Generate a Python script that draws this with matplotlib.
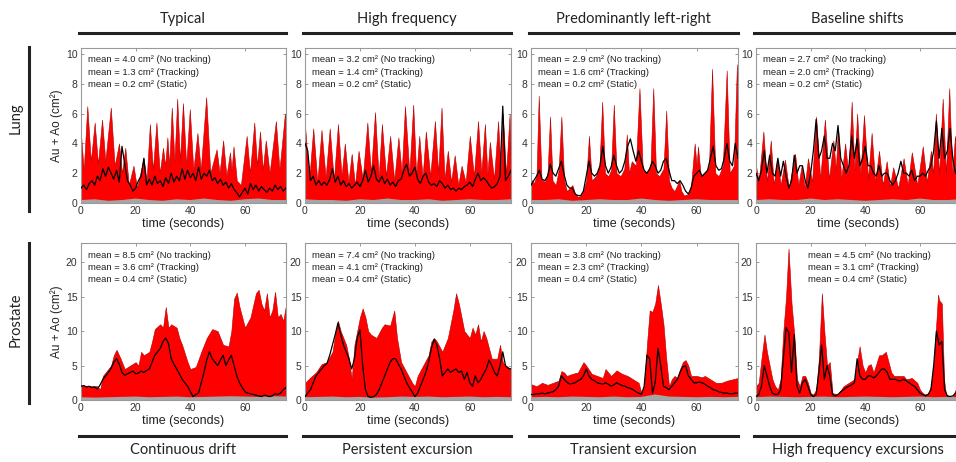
import numpy as np
import matplotlib
matplotlib.use("Agg")
import matplotlib.pyplot as plt
from matplotlib.lines import Line2D

# ---------------- DATA ----------------
col_titles = ["Typical", "High frequency", "Predominantly left-right", "Baseline shifts"]
bottom_titles = ["Continuous drift", "Persistent excursion", "Transient excursion", "High frequency excursions"]
row_titles = ["Lung", "Prostate"]

# mean values (No tracking, Tracking, Static)
means_lung = [(4.0, 1.3, 0.2), (3.2, 1.4, 0.2), (2.9, 1.6, 0.2), (2.7, 2.0, 0.2)]
means_prostate = [(8.5, 3.6, 0.4), (7.4, 4.1, 0.4), (3.8, 2.3, 0.4), (4.5, 3.1, 0.4)]

lung_yticks = [0, 2, 4, 6, 8, 10]
prostate_yticks = [0, 5, 10, 15, 20]
x_ticks = [0, 20, 40, 60]

# No-tracking (red) series: (time s, area cm2)
red_lung_typical = [(0,4.6),(1.0,2.2),(2.3,6.5),(3.6,2.8),(5.0,5.4),(6.2,2.6),(7.7,5.6),(8.9,2.8),(10.9,6.4),(12.3,2.5),
    (13.9,4.0),(15.0,2.0),(16.2,3.7),(17.5,1.2),(19.2,2.5),(20.5,1.0),(22.9,3.0),(24.0,1.5),(25.2,5.3),(26.3,2.2),
    (27.6,5.4),(28.8,2.0),(30.0,3.7),(30.8,2.5),(31.6,4.4),(32.3,2.5),(33.2,6.4),(34.2,2.8),(35.2,7.0),(36.2,2.8),
    (37.3,6.7),(38.5,2.5),(39.8,6.3),(41.1,2.2),(42.6,4.7),(43.8,2.2),(45.8,7.1),(47.3,2.0),(49.6,3.6),(50.7,2.0),
    (52.0,4.2),(53.2,1.8),(54.5,3.4),(55.1,2.2),(55.8,3.8),(57.0,1.5),(58.5,1.2),(60.6,4.5),(61.8,2.0),(63.4,5.4),
    (64.4,2.5),(65.5,4.8),(66.5,2.2),(67.6,4.2),(69.0,2.0),(71.3,5.5),(72.6,2.2),(74.6,6.0),(75,5.0)]
red_lung_highfreq = [(0,5.2),(1.5,1.5),(3,5.0),(4.5,1.4),(6,4.9),(7.5,1.7),(9,5.0),(10.5,1.5),(12,5.3),(13.3,1.8),
    (14.5,4.0),(15.8,1.4),(17,3.3),(18.2,1.2),(19.5,3.5),(21,1.6),(22.7,5.4),(24,2.0),(25.5,6.1),(26.8,1.7),
    (28,5.3),(29.5,1.8),(31,4.5),(32.5,1.5),(34,4.4),(35.2,2.0),(36.4,6.5),(38,2.0),(39.4,6.6),(40.5,1.8),
    (41.6,4.5),(42.8,1.7),(44,4.8),(45.6,1.8),(47.3,5.5),(48.5,2.0),(49.7,6.4),(50.8,1.6),(52,3.5),(53.2,1.4),
    (54.5,3.2),(55.8,1.2),(57,2.5),(58.5,1.4),(60,4.5),(61.5,1.8),(63,5.5),(64.2,2.0),(65.5,5.3),(66.4,1.9),
    (67.3,4.1),(68.8,1.6),(70.3,5.5),(71.2,2.2),(72,6.0),(73.2,1.9),(74.5,6.0),(75,2.4)]
red_lung_leftright = [(0,1.6),(1,1.3),(2,1.8),(2.8,7.2),(3.8,1.6),(5,1.4),(6,2.0),(6.9,5.8),(7.8,1.5),(9,1.2),
    (10,2.2),(11,5.8),(12,1.5),(13,0.8),(14,1.0),(15,1.2),(16,0.6),(17,0.4),(18,0.5),(19,0.8),
    (20,1.5),(21,4.5),(22,1.5),(23.5,1.8),(24.8,2.5),(25.8,6.8),(26.8,2.0),(28,1.8),(29,2.2),(30,6.6),
    (31,2.0),(32.5,1.8),(33.8,2.3),(34.7,4.6),(35.5,2.0),(36.5,2.8),(38,2.5),(39.3,7.7),(40.5,2.2),(42,2.0),
    (43.3,2.5),(44.3,7.7),(45.3,2.0),(46.5,1.8),(48,2.3),(49,6.2),(50,1.5),(51,1.0),(52,0.8),(53,1.2),
    (53.7,1.5),(54.5,0.8),(55.5,0.5),(57,0.6),(58,1.2),(59.3,4.0),(60,2.5),(60.5,3.8),(61.5,1.8),(63,2.0),
    (64.5,2.5),(65.6,9.0),(66.8,2.0),(68,1.8),(69.5,2.5),(70.9,8.9),(72,2.0),(73.5,2.5),(74.6,9.3),(75,5.0)]
red_lung_baseline = [(0,2.5),(1,1.4),(2.7,4.8),(4,1.4),(5.4,4.2),(6.5,1.2),(7.8,3.0),(9,1.2),(10.6,2.9),(12,1.0),
    (14.3,3.3),(15.5,1.2),(16.7,2.5),(17.8,1.0),(19,3.0),(20.5,1.4),(22,5.8),(23.5,1.6),(25.2,5.6),(26.7,1.6),
    (28.3,4.2),(29.2,2.2),(30,5.1),(31.2,1.6),(32.6,4.0),(33.8,1.9),(35,6.8),(36,2.2),(37,6.0),(38.2,1.9),
    (39.5,5.9),(41,1.6),(42.3,4.7),(43.6,1.4),(45,3.5),(46.4,1.2),(47.8,2.8),(49,1.1),(50.2,2.4),(52,1.0),
    (54,3.0),(55.5,1.2),(57,3.4),(59,1.2),(61,3.8),(62.5,1.4),(64,3.5),(64.8,1.9),(65.8,6.0),(67,1.9),
    (68.3,7.0),(69.5,1.9),(70.7,7.7),(71.8,1.9),(72.8,4.5),(74,1.6),(75,2.2)]
red_prostate_drift = [(0,2.1),(3,2.0),(6,2.0),(7,1.5),(8,3.5),(10,4.5),(11,5.0),(12,6.5),(13,7.3),(14.5,6.0),
    (16,4.5),(18,5.0),(20,5.5),(21,5.0),(22,7.0),(23,6.5),(25,7.0),(26,8.5),(27,10.3),(29,11.0),
    (30,10.5),(31,13.5),(32,10.5),(33,11.0),(35,10.5),(36,9.0),(37,8.0),(39,5.5),(40,4.5),(42,4.8),
    (44,7.0),(46,9.0),(48,10.3),(50,10.0),(52,8.0),(54,7.8),(55,10.0),(56,14.7),(57,15.6),(58,13.5),
    (59,12.0),(60,10.5),(62,12.0),(64,15.5),(65,16.0),(66,14.0),(67,13.0),(68,15.5),(69,12.0),(70,13.0),
    (71,15.7),(72,12.0),(73,12.5),(74,11.5),(75,13.8)]
red_prostate_persistent = [(0,2.5),(2,3.3),(4,4.0),(6,5.2),(8,5.5),(10,7.0),(11,9.5),(12,11.5),(13,10.0),(15,8.0),
    (16,6.0),(17,3.0),(18,8.0),(20,12.0),(21,13.3),(22,12.0),(23,10.0),(24,9.5),(26,9.0),(28,10.5),
    (29,11.0),(31,10.8),(32.5,13.0),(33.5,9.0),(35,5.5),(37,4.0),(39,2.5),(40,2.0),(41,3.5),(43,5.0),
    (45,6.5),(46,8.5),(47,9.0),(48,8.5),(50,7.0),(52,9.0),(54,13.0),(55,15.5),(56,14.0),(57,12.0),
    (58,10.0),(60,9.0),(61,10.5),(62,9.5),(63,11.0),(64,8.5),(65,10.0),(66,9.0),(68,6.0),(70,6.0),
    (71,8.0),(72,5.5),(73,5.0),(75,4.5)]
red_prostate_transient = [(0,2.3),(2,2.0),(4,2.5),(6,2.2),(8,2.5),(10,2.8),(11,4.2),(12,4.0),(13,3.5),(15,3.8),
    (17,4.0),(19,5.5),(20,5.0),(22,3.8),(24,3.5),(26,3.2),(27,4.5),(29,3.5),(31,4.3),(33,3.8),
    (35,3.5),(37,3.0),(39,2.5),(40,1.0),(41,2.0),(42,8.0),(43,13.0),(44,12.8),(45,14.0),(46,16.7),
    (47,14.0),(48,11.0),(49,6.0),(50,2.0),(51,3.0),(52,3.5),(53,3.2),(54,4.5),(55,5.5),(56,5.8),
    (57,5.0),(58,3.5),(60,3.5),(62,3.3),(63,3.5),(65,3.0),(67,2.5),(69,2.5),(71,2.8),(73,3.0),(75,3.2)]
red_prostate_highfreq = [(0,2.0),(1,2.5),(2,6.0),(3.1,9.5),(4,7.0),(5,5.0),(6,3.0),(7,2.0),(8,1.5),(9,3.0),
    (10,10.0),(11,15.0),(11.9,22.0),(13,14.0),(14,9.5),(15,3.0),(16,2.0),(17,3.5),(18,3.5),(19,2.5),
    (20,1.0),(21,0.8),(22,1.5),(23,6.0),(24.1,15.5),(25,10.0),(26,5.0),(27,5.5),(28,1.0),(30,0.8),
    (32,2.0),(34,2.5),(36,3.0),(37.9,7.8),(39,5.0),(40,4.0),(41,5.0),(42,5.2),(43,4.0),(44,5.2),
    (45,6.5),(46,6.5),(47.5,7.0),(48.5,5.5),(49.5,4.0),(50.5,3.5),(52,3.5),(54,3.5),(55,3.0),(57,3.2),
    (59,2.5),(60,1.5),(61,1.0),(62,0.8),(63,1.0),(64,2.0),(65,5.0),(66.6,15.3),(67,14.5),(68,14.0),
    (68.8,3.0),(69.5,0.8),(71,0.5),(72,0.5),(73,1.5),(75,2.0)]

# Tracking (black) series, one value per second from 0 to 75 s
trk_lung_typical = [1.0,1.2,0.9,1.3,1.5,1.2,1.8,1.5,2.3,1.8,2.4,2.0,1.6,2.2,1.4,3.8,2.6,1.5,1.2,0.8,
    1.0,1.5,1.8,3.0,1.2,1.6,1.2,1.8,1.3,1.5,1.1,1.7,1.3,2.0,1.4,1.8,1.5,2.3,1.6,2.2,
    1.7,2.0,1.5,2.4,1.6,2.0,1.8,2.2,1.5,1.7,1.3,1.6,1.2,1.4,1.0,1.3,0.9,0.7,0.4,0.7,
    1.0,0.6,1.3,0.9,1.2,0.8,1.1,0.9,0.7,1.0,0.8,1.2,0.9,1.1,0.8,1.0]
trk_lung_highfreq = [4.0,3.5,1.5,1.8,1.2,1.5,1.2,1.4,1.2,1.6,2.3,1.4,1.8,1.2,1.5,1.1,1.3,1.0,1.2,1.4,
    1.1,1.5,2.2,1.4,1.8,2.5,1.6,1.4,1.8,1.3,1.6,1.2,1.4,1.1,1.5,1.6,2.2,2.6,1.8,2.0,
    2.4,1.6,1.3,1.8,2.0,1.4,1.2,1.3,1.1,1.5,1.3,1.0,1.2,0.9,1.0,0.8,1.0,0.9,1.1,1.2,
    1.4,1.1,1.6,2.0,1.5,1.7,1.5,1.2,1.0,1.1,1.3,1.8,6.5,1.5,1.8,2.2]
trk_lung_leftright = [1.2,1.5,1.8,2.2,1.6,1.5,1.8,2.6,2.0,1.8,2.3,2.8,1.9,1.2,1.0,1.0,0.6,0.5,0.5,0.8,
    1.8,2.8,2.0,1.8,2.0,2.5,3.8,2.5,2.0,2.4,3.2,2.5,2.0,2.2,2.8,3.8,4.3,3.5,2.8,3.5,
    2.8,2.2,2.0,2.3,2.8,2.5,2.0,2.2,2.8,3.0,2.2,1.5,1.5,1.3,1.5,1.2,0.8,0.6,1.0,1.8,
    2.0,2.2,1.8,2.0,2.2,3.0,3.8,2.5,2.2,2.3,3.0,4.0,2.8,2.5,4.0,3.0]
trk_lung_baseline = [2.0,1.5,2.2,3.5,2.0,3.2,2.0,1.8,3.0,1.8,2.8,1.8,1.0,1.5,3.2,2.0,2.5,2.5,1.5,1.0,
    2.0,3.5,5.6,3.0,3.5,4.5,3.0,3.0,4.0,3.5,5.2,3.0,2.5,2.0,2.5,4.5,3.0,4.3,2.5,3.0,
    3.8,2.5,2.5,2.0,1.8,2.5,1.8,2.0,2.0,1.5,1.2,1.5,2.0,2.8,2.0,2.0,1.8,2.2,1.5,1.8,
    1.8,2.0,1.8,2.2,2.5,3.5,5.5,3.0,5.0,3.0,3.5,5.0,3.0,2.0,2.2,2.0]
trk_prostate_drift = [2.0,2.1,1.9,2.0,1.8,1.9,1.6,2.2,3.0,3.5,4.0,4.6,5.5,6.0,5.2,4.0,3.6,3.8,4.0,4.2,
    3.8,3.9,4.2,4.0,4.3,4.5,5.5,6.5,7.0,7.5,8.5,9.0,8.2,6.0,5.2,4.5,3.8,3.0,2.5,2.0,
    1.2,0.5,0.8,1.0,2.5,4.0,5.8,7.0,6.0,5.5,5.0,5.8,6.5,5.0,5.8,6.5,5.0,3.5,2.5,1.8,
    1.2,1.0,0.9,0.8,0.7,0.6,0.5,0.7,0.6,0.5,0.6,0.9,0.8,1.0,1.5,1.8]
trk_prostate_persistent = [0.5,1.0,1.5,2.5,3.5,4.0,4.5,5.0,5.3,6.5,8.0,9.5,11.2,9.5,8.0,7.0,6.0,4.5,6.0,9.0,
    10.2,5.0,1.5,0.5,0.4,0.5,0.8,1.5,2.5,3.5,4.5,5.5,6.0,6.0,5.2,4.5,3.5,2.5,1.8,1.2,
    0.5,1.0,2.0,3.0,4.0,5.5,7.5,8.8,8.0,6.0,3.5,4.0,4.5,4.0,4.3,4.5,4.0,4.2,3.0,4.0,
    2.5,2.0,3.5,2.5,3.0,3.8,4.5,5.8,5.0,4.0,3.5,5.0,7.0,5.0,4.6,4.5]
trk_prostate_transient = [0.8,0.8,0.9,0.9,1.0,0.9,1.0,1.1,1.2,1.5,2.0,3.5,3.0,2.6,2.3,2.4,2.5,2.8,3.0,3.5,
    4.5,3.5,3.0,2.8,2.5,2.4,2.3,2.5,2.3,2.0,2.2,2.5,2.3,2.1,2.0,1.8,1.7,1.5,1.2,1.0,
    0.8,2.0,6.5,6.0,1.0,2.5,7.5,5.0,2.0,1.8,1.5,2.0,2.5,3.0,4.0,4.8,5.0,3.5,3.0,2.5,
    2.5,2.6,2.5,2.3,2.0,1.8,1.5,1.4,1.2,1.1,1.0,1.0,0.9,0.9,1.0,1.0]
trk_prostate_highfreq = [0.5,0.8,2.0,5.0,3.5,2.0,1.0,0.8,0.8,1.5,6.0,10.5,9.8,4.0,9.5,2.0,1.0,2.5,3.0,2.0,
    0.8,0.5,0.8,4.0,8.0,3.0,5.0,3.5,0.8,0.6,0.8,1.2,1.5,1.8,2.0,2.2,2.5,6.0,3.5,3.0,
    3.0,3.5,3.5,3.2,3.5,4.0,4.5,4.5,4.0,3.0,3.0,3.0,2.8,2.8,3.0,2.8,2.5,2.2,2.0,1.5,
    1.0,0.8,0.6,0.8,1.5,5.0,10.0,8.0,8.5,1.5,0.6,0.5,0.6,1.0,1.3,1.5]

# Static (gray) series, one value every 5 s from 0 to 75 s
static_lung_typical = [0.20,0.25,0.15,0.20,0.30,0.20,0.15,0.25,0.20,0.30,0.20,0.15,0.25,0.30,0.20,0.20]
static_lung_highfreq = [0.25,0.20,0.20,0.15,0.25,0.20,0.30,0.20,0.20,0.25,0.15,0.20,0.25,0.20,0.20,0.25]
static_lung_leftright = [0.20,0.20,0.25,0.15,0.20,0.25,0.20,0.20,0.30,0.20,0.15,0.20,0.25,0.20,0.20,0.20]
static_lung_baseline = [0.20,0.25,0.20,0.20,0.30,0.20,0.25,0.20,0.15,0.20,0.25,0.20,0.30,0.20,0.20,0.25]
static_prostate_drift = [0.40,0.35,0.40,0.45,0.50,0.40,0.45,0.50,0.40,0.45,0.50,0.55,0.50,0.45,0.55,0.50]
static_prostate_persistent = [0.40,0.45,0.50,0.40,0.45,0.35,0.40,0.50,0.45,0.50,0.40,0.45,0.50,0.40,0.45,0.40]
static_prostate_transient = [0.40,0.45,0.40,0.50,0.45,0.40,0.50,0.40,0.45,0.80,0.50,0.45,0.40,0.45,0.40,0.45]
static_prostate_highfreq = [0.40,0.50,0.45,0.40,0.45,0.50,0.40,0.45,0.50,0.45,0.40,0.45,0.50,0.40,0.45,0.40]

red_series = [[red_lung_typical, red_lung_highfreq, red_lung_leftright, red_lung_baseline],
              [red_prostate_drift, red_prostate_persistent, red_prostate_transient, red_prostate_highfreq]]
trk_series = [[trk_lung_typical, trk_lung_highfreq, trk_lung_leftright, trk_lung_baseline],
              [trk_prostate_drift, trk_prostate_persistent, trk_prostate_transient, trk_prostate_highfreq]]
static_series = [[static_lung_typical, static_lung_highfreq, static_lung_leftright, static_lung_baseline],
                 [static_prostate_drift, static_prostate_persistent, static_prostate_transient, static_prostate_highfreq]]
means = [means_lung, means_prostate]

# ---------------- LAYOUT ----------------
W, H = 956, 462
fig = plt.figure(figsize=(W / 100, H / 100), dpi=100)
plt.rcParams['font.family'] = ['Liberation Sans', 'DejaVu Sans']
title_font = ['Lato', 'DejaVu Sans']

col_left = [81, 305, 531, 756]
col_width = [205, 206, 207, 205]
row_top = [48, 243]
row_bot = [203, 400]
ylims = [10.4, 22.8]
yticks = [lung_yticks, prostate_yticks]


def fx(x):
    return x / W


def fy(y):
    return 1 - y / H


RED = '#ff0000'
GRAY = '#a5a5a5'

for r in range(2):
    for c in range(4):
        ax = fig.add_axes([fx(col_left[c]), fy(row_bot[r]), col_width[c] / W, (row_bot[r] - row_top[r]) / H])
        red = np.array(red_series[r][c], dtype=float)
        trk = np.array(trk_series[r][c], dtype=float)
        trk_t = np.arange(len(trk), dtype=float)
        st = np.array(static_series[r][c], dtype=float)
        st_t = np.arange(len(st), dtype=float) * 5
        ax.fill_between(red[:, 0], 0, red[:, 1], facecolor=RED, edgecolor='#b00000', linewidth=0.4, zorder=2)
        ax.fill_between(st_t, 0, st, facecolor=GRAY, edgecolor='none', zorder=3)
        ax.plot(trk_t, trk, color='black', lw=0.9, zorder=4)
        ax.set_xlim(0, 75)
        ax.set_ylim(0, ylims[r])
        ax.set_xticks(x_ticks)
        ax.set_yticks(yticks[r])
        ax.tick_params(direction='in', length=2.5, width=0.6, top=True, right=True,
                       labelsize=7.5, colors='#333333', pad=2.5)
        ax.tick_params(axis='both', color='#888888')
        for s in ax.spines.values():
            s.set_color('#9a9a9a')
            s.set_linewidth(0.8)
        ax.set_xlabel('time (seconds)', fontsize=9, labelpad=1, color='#222222')
        if c == 0:
            ax.set_ylabel('Au + Ao (cm²)', fontsize=8.5, labelpad=2, color='#222222')
        m = means[r][c]
        lines = ['mean = %.1f cm² (No tracking)' % m[0],
                 'mean = %.1f cm² (Tracking)' % m[1],
                 'mean = %.1f cm² (Static)' % m[2]]
        xoff = 52 if (r == 1 and c == 3) else 7
        for i, s in enumerate(lines):
            fig.text(fx(col_left[c] + xoff), fy(row_top[r] + 12 + 12.3 * i), s, fontsize=6.8,
                     color='#222222', va='center', ha='left')

# column titles with underline
for c in range(4):
    x0 = col_left[c] - 2
    x1 = col_left[c] + col_width[c]
    fig.add_artist(Line2D([fx(x0), fx(x1)], [fy(33), fy(33)], color='#222222', lw=2.2, transform=fig.transFigure))
    fig.text(fx((x0 + x1) / 2), fy(19), col_titles[c], fontsize=10.5, ha='center', va='center',
             family=title_font, color='#222222')
    fig.add_artist(Line2D([fx(x0), fx(x1)], [fy(436), fy(436)], color='#222222', lw=2.2, transform=fig.transFigure))
    fig.text(fx((x0 + x1) / 2), fy(450), bottom_titles[c], fontsize=10.5, ha='center', va='center',
             family=title_font, color='#222222')

# row titles with vertical bar
row_bar = [(47, 211), (243, 403)]
row_lbl_y = [118, 320]
for r in range(2):
    fig.add_artist(Line2D([fx(29), fx(29)], [fy(row_bar[r][0]), fy(row_bar[r][1])], color='#222222', lw=2.2,
                          transform=fig.transFigure))
    fig.text(fx(16), fy(row_lbl_y[r]), row_titles[r], fontsize=10.5, rotation=90, ha='center', va='center',
             family=title_font, color='#222222')

fig.savefig('out.png', dpi=100, facecolor='white')
